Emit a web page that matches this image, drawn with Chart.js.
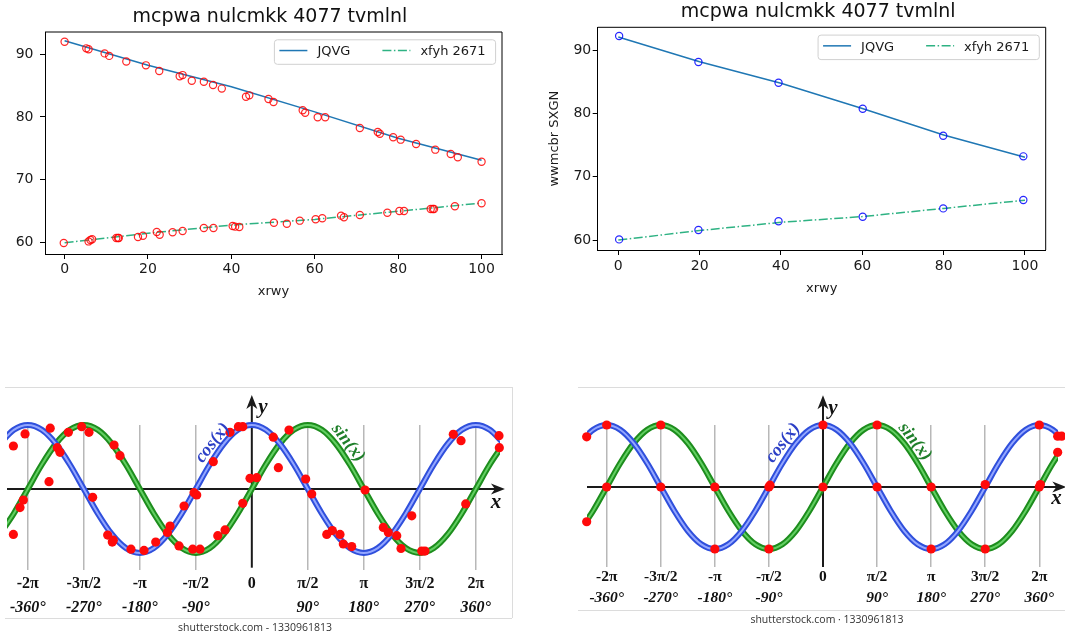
<!DOCTYPE html>
<html><head><meta charset="utf-8">
<script src="https://cdn.jsdelivr.net/npm/chart.js@4.4.1/dist/chart.umd.min.js"></script>
<style>
html,body{margin:0;padding:0;background:#fff;width:1065px;height:636px;overflow:hidden;position:relative}
canvas{position:absolute}
</style></head><body>
<canvas id="c1" width="530" height="300" style="left:0;top:0"></canvas>
<canvas id="c2" width="535" height="300" style="left:530px;top:0"></canvas>
<canvas id="c3" width="520" height="256" style="left:0;top:380px"></canvas>
<canvas id="c4" width="495" height="256" style="left:570px;top:380px"></canvas>
<script>
// ---------- data: top charts ----------
const titleText = 'mcpwa nulcmkk 4077 tvmlnl';
const xAxisLabel = 'xrwy';
const yAxisLabelRight = 'wwmcbr SXGN';
const seriesNames = ['JQVG', 'xfyh 2671'];
const lineX = [0, 20, 40, 60, 80, 100];
const jqvgY = [92.1, 88.2, 84.8, 80.8, 76.6, 73.1];
const xfyhY = [60.0, 61.5, 62.8, 63.7, 65.0, 66.3];
const topXTicks = [0, 20, 40, 60, 80, 100];
const topYTicks = [60, 70, 80, 90];

// red markers (left chart)
const redJX = [0, 5.2, 5.75, 9.6, 10.7, 14.8, 19.5, 22.7, 27.6, 28.3, 30.5, 33.4, 35.6, 37.7, 43.5, 44.3, 48.9, 50.1, 57.1, 57.7, 60.7, 62.5, 70.8, 75.1, 75.6, 78.8, 80.6, 84.3, 88.9, 92.6, 94.3, 100];
const redJY = [91.96, 90.9, 90.75, 90.1, 89.7, 88.8, 88.2, 87.3, 86.45, 86.65, 85.76, 85.6, 85.07, 84.5, 83.2, 83.43, 82.85, 82.37, 81.05, 80.67, 79.94, 79.94, 78.24, 77.6, 77.33, 76.76, 76.38, 75.7, 74.79, 74.1, 73.58, 72.88];
const redFX = [-0.2, 5.75, 6.2, 6.6, 12.4, 12.8, 13.0, 17.6, 18.8, 22.1, 22.8, 25.9, 28.3, 33.4, 35.7, 40.3, 40.9, 41.9, 50.2, 53.3, 56.4, 60.2, 61.8, 66.3, 67.0, 70.8, 77.4, 80.3, 81.4, 87.8, 88.3, 88.6, 93.6, 100];
const redFY = [59.95, 60.2, 60.43, 60.54, 60.75, 60.75, 60.75, 60.9, 61.1, 61.7, 61.27, 61.65, 61.86, 62.34, 62.34, 62.65, 62.55, 62.5, 63.18, 63.02, 63.5, 63.72, 63.88, 64.3, 64.04, 64.4, 64.77, 65.04, 65.04, 65.36, 65.36, 65.36, 65.8, 66.26];

// blue markers (right chart)
const blueX = [0.2, 19.7, 39.4, 60.1, 79.9, 99.6];
const blueJY = [92.26, 88.15, 84.87, 80.76, 76.49, 73.23];
const blueFY = [60.1, 61.58, 62.96, 63.69, 65.0, 66.33];

// ---------- data: wave charts (x in units of pi) ----------
const waveX = [-2.25,-2.125,-2,-1.875,-1.75,-1.625,-1.5,-1.375,-1.25,-1.125,-1,-0.875,-0.75,-0.625,-0.5,-0.375,-0.25,-0.125,0,0.125,0.25,0.375,0.5,0.625,0.75,0.875,1,1.125,1.25,1.375,1.5,1.625,1.75,1.875,2,2.125,2.25];
const sinY = [-0.707,-0.383,0,0.383,0.707,0.924,1,0.924,0.707,0.383,0,-0.383,-0.707,-0.924,-1,-0.924,-0.707,-0.383,0,0.383,0.707,0.924,1,0.924,0.707,0.383,0,-0.383,-0.707,-0.924,-1,-0.924,-0.707,-0.383,0,0.383,0.707];
const cosY = [0.707,0.924,1,0.924,0.707,0.383,0,-0.383,-0.707,-0.924,-1,-0.924,-0.707,-0.383,0,0.383,0.707,0.924,1,0.924,0.707,0.383,0,-0.383,-0.707,-0.924,-1,-0.924,-0.707,-0.383,0,0.383,0.707,0.924,1,0.924,0.707];
const piTicks = [-2, -1.5, -1, -0.5, 0, 0.5, 1, 1.5, 2];
const piLabels = ['-2π', '-3π/2', '-π', '-π/2', '0', 'π/2', 'π', '3π/2', '2π'];
const degLabels = ['-360°', '-270°', '-180°', '-90°', '', '90°', '180°', '270°', '360°'];
const curveNames = ['cos(x)', 'sin(x)'];

const dotsLX = [-2.129,-2.025,-1.80,-1.638,-1.519,-1.454,-1.737,-1.713,-1.230,-1.177,-1.811,-1.421,-2.040,-2.07,-2.129,-1.287,-1.237,-1.246,-1.079,-0.9625,-0.858,-0.754,-0.730,
  -0.65,-0.528,-0.4625,-0.304,-0.239,-0.081,-0.605,-0.516,-0.492,-0.344,-0.195,-0.12,-0.081,-0.016,0.044,0.192,0.332,0.237,0.481,0.535,0.669,0.719,0.7875,
  0.817,0.892,1.011,1.174,1.219,1.294,1.332,1.428,1.517,1.546,1.799,1.868,1.91,2.207,2.21];
const dotsLY = [0.672,0.86,0.95,0.886,0.974,0.886,0.646,0.573,0.6875,0.52,0.114,-0.13,-0.172,-0.29,-0.71,-0.72,-0.80,-0.83,-0.94,-0.96,-0.83,-0.68,-0.58,
  -0.89,-0.94,-0.94,-0.73,-0.64,-0.224,-0.266,-0.058,-0.094,0.427,0.886,0.974,0.974,0.167,0.177,0.81,0.92,0.333,0.156,-0.078,-0.71,-0.65,-0.71,
  -0.86,-0.90,-0.016,-0.60,-0.68,-0.73,-0.93,-0.42,-0.97,-0.97,0.854,0.755,-0.234,0.833,0.646];
const dotsRX = [-2.185,-2.185,-2,-2,-1.5,-1.5,-1,-1,-0.5,-0.5,-0.49,0,0,0.5,0.5,1,1,1.5,1.5,2,2,2.01,2.17,2.207,2.17];
const dotsRY = [0.81,-0.56,1,0,1,0,-1,0,-1,0,0.03,1,0,1,0,-1,0,-1,0.04,1,0,0.04,0.82,0.82,0.56];

const BLUE = '#1f77b4';
const GREEN = '#2eb283';
const pts = (xs, ys) => xs.map((x, i) => ({x: x, y: ys[i]}));

// ---------- plugins ----------
const mplDeco = {
  id: 'mplDeco',
  afterDatasetsDraw(chart) {
    const o = chart.options.plugins.mplDeco;
    if (!o) return;
    const c = chart.ctx, a = chart.chartArea;
    c.save();
    const items = chart.data.datasets.filter(d => d.inLegend);
    c.font = '13px "DejaVu Sans"';
    const padL = 5, padR = 10, handle = 28, gap = 10, colGap = 32, h = 24.5;
    let w = padL + padR;
    items.forEach((d, i) => { w += handle + gap + c.measureText(d.label).width + (i ? colGap : 0); });
    const right = a.right - 6.4, top = a.top + 7.8, left = right - w;
    c.beginPath();
    c.roundRect(left, top, w, h, 3);
    c.fillStyle = 'rgba(255,255,255,0.85)';
    c.fill();
    c.strokeStyle = '#d0d0d0'; c.lineWidth = 1; c.stroke();
    let x = left + padL; const cy = top + h / 2;
    items.forEach((d, i) => {
      if (i) x += colGap;
      c.beginPath(); c.setLineDash(d.borderDash || []);
      c.strokeStyle = d.borderColor; c.lineWidth = 1.5;
      c.moveTo(x, cy - 1.5); c.lineTo(x + handle, cy - 1.5); c.stroke();
      c.setLineDash([]);
      x += handle + gap;
      c.fillStyle = '#1a1a1a'; c.textAlign = 'left'; c.textBaseline = 'middle';
      c.fillText(d.label, x, cy);
      x += c.measureText(d.label).width;
    });
    c.restore();
  },
  afterDraw(chart) {
    const o = chart.options.plugins.mplDeco;
    if (!o) return;
    const c = chart.ctx, a = chart.chartArea;
    c.save();
    c.strokeStyle = '#000'; c.lineWidth = 1;
    c.beginPath();
    c.moveTo(a.left, a.top); c.lineTo(a.right, a.top); c.lineTo(a.right, a.bottom);
    c.stroke();
    c.font = '19px "DejaVu Sans"'; c.fillStyle = '#111';
    c.textAlign = 'center'; c.textBaseline = 'middle';
    c.fillText(o.title, (a.left + a.right) / 2 - 3.5, o.titleY);
    c.restore();
  }
};

const waveDeco = {
  id: 'waveDeco',
  beforeDatasetsDraw(chart) {
    const o = chart.options.plugins.waveDeco;
    if (!o) return;
    const c = chart.ctx, a = chart.chartArea, xs = chart.scales.x, ys = chart.scales.y;
    const x0 = xs.getPixelForValue(0), y0 = ys.getPixelForValue(0);
    const xTip = xs.getPixelForValue(o.xTip), yTip = ys.getPixelForValue(o.yTop), yBot = ys.getPixelForValue(o.yBottom);
    c.save();
    c.strokeStyle = '#1a1a1a'; c.fillStyle = '#1a1a1a'; c.lineWidth = 2;
    c.beginPath(); c.moveTo(a.left, y0); c.lineTo(xTip - 8, y0); c.stroke();
    c.beginPath(); c.moveTo(xTip, y0); c.lineTo(xTip - 14, y0 - 5.5); c.lineTo(xTip - 10, y0); c.lineTo(xTip - 14, y0 + 5.5); c.closePath(); c.fill();
    c.beginPath(); c.moveTo(x0, yBot); c.lineTo(x0, yTip + 8); c.stroke();
    c.beginPath(); c.moveTo(x0, yTip); c.lineTo(x0 - 5.5, yTip + 14); c.lineTo(x0, yTip + 10); c.lineTo(x0 + 5.5, yTip + 14); c.closePath(); c.fill();
    c.restore();
  },
  afterDraw(chart) {
    const o = chart.options.plugins.waveDeco;
    if (!o) return;
    const c = chart.ctx, a = chart.chartArea, xs = chart.scales.x, ys = chart.scales.y;
    c.save();
    c.fillStyle = '#111'; c.font = 'italic bold 21px "Liberation Serif"';
    c.textAlign = 'center'; c.textBaseline = 'middle';
    c.fillText('y', xs.getPixelForValue(o.yName[0]), ys.getPixelForValue(o.yName[1]));
    c.fillText('x', xs.getPixelForValue(o.xName[0]), ys.getPixelForValue(o.xName[1]));
    c.font = 'italic bold 18px "Liberation Serif"';
    c.save();
    c.translate(xs.getPixelForValue(o.cosAt[0]), ys.getPixelForValue(o.cosAt[1]));
    c.rotate(-52 * Math.PI / 180);
    c.fillStyle = '#2c3fc6'; c.fillText(curveNames[0], 0, 0);
    c.restore();
    c.save();
    c.translate(xs.getPixelForValue(o.sinAt[0]), ys.getPixelForValue(o.sinAt[1]));
    c.rotate(52 * Math.PI / 180);
    c.fillStyle = '#1f7f2a'; c.fillText(curveNames[1], 0, 0);
    c.restore();
    c.font = 'italic bold ' + o.fontSize + 'px "Liberation Serif"'; c.fillStyle = '#111';
    piTicks.forEach((v, i) => {
      if (degLabels[i]) c.fillText(degLabels[i], xs.getPixelForValue(v), a.bottom + o.degOffset);
    });
    c.font = '10.5px "Open Sans"'; c.fillStyle = '#333';
    c.fillText(o.mark, o.markX, o.markY);
    c.strokeStyle = '#dcdcdc'; c.lineWidth = 1;
    const f = o.frame;
    c.beginPath();
    c.moveTo(f.l, f.t + 0.5); c.lineTo(f.r, f.t + 0.5);
    c.moveTo(f.l, f.b + 0.5); c.lineTo(f.r, f.b + 0.5);
    if (f.rightLine) { c.moveTo(f.r + 0.5, f.t); c.lineTo(f.r + 0.5, f.b); }
    c.stroke();
    c.restore();
  }
};

// ---------- top charts ----------
function makeTop(cfg) {
  const datasets = [
    {label: seriesNames[0], data: pts(lineX, jqvgY), showLine: true, borderColor: BLUE, borderWidth: 1.5, pointRadius: 0, inLegend: true, order: 5},
    {label: seriesNames[1], data: pts(lineX, xfyhY), showLine: true, borderColor: GREEN, borderWidth: 1.5, borderDash: [9, 2.5, 1.5, 2.5], pointRadius: 0, inLegend: true, order: 4},
    {label: 'mj', data: pts(cfg.mx, cfg.mj), showLine: false, pointRadius: 3.6, pointBorderColor: cfg.mc, pointBackgroundColor: 'rgba(0,0,0,0)', pointBorderWidth: 1.2, order: 1},
    {label: 'mf', data: pts(cfg.mfx, cfg.mf), showLine: false, pointRadius: 3.6, pointBorderColor: cfg.mc, pointBackgroundColor: 'rgba(0,0,0,0)', pointBorderWidth: 1.2, order: 0}
  ];
  const tickFont = {family: 'DejaVu Sans', size: 14};
  return new Chart(document.getElementById(cfg.id), {
    type: 'scatter',
    data: {datasets},
    plugins: [mplDeco],
    options: {
      responsive: false, animation: false, events: [],
      layout: {padding: cfg.pad},
      plugins: {legend: {display: false}, tooltip: {enabled: false}, title: {display: false},
        mplDeco: {title: titleText, titleY: cfg.titleY}},
      scales: {
        x: {type: 'linear', min: cfg.xmin, max: cfg.xmax,
          afterBuildTicks: s => { s.ticks = topXTicks.map(v => ({value: v})); },
          afterFit: s => { s.height = cfg.xh; },
          grid: {display: true, drawOnChartArea: false, drawTicks: true, tickLength: 5, color: '#000', lineWidth: 1},
          border: {display: true, color: '#000', width: 1},
          ticks: {font: tickFont, color: '#1a1a1a', padding: cfg.xTickPad, maxRotation: 0, autoSkip: false},
          title: {display: true, text: xAxisLabel, font: {family: 'DejaVu Sans', size: 13}, color: '#1a1a1a', padding: {top: 0, bottom: cfg.xTitlePad}}
        },
        y: {type: 'linear', min: cfg.ymin, max: cfg.ymax,
          afterBuildTicks: s => { s.ticks = topYTicks.map(v => ({value: v})); },
          afterFit: s => { s.width = cfg.yw; },
          grid: {display: true, drawOnChartArea: false, drawTicks: true, tickLength: 5, color: '#000', lineWidth: 1},
          border: {display: true, color: '#000', width: 1},
          ticks: {font: tickFont, color: '#1a1a1a', padding: cfg.yTickPad, autoSkip: false},
          title: {display: !!cfg.yTitle, text: cfg.yTitle || '', font: {family: 'DejaVu Sans', size: 13}, color: '#1a1a1a', padding: {top: cfg.yTitlePad || 0, bottom: 0}}
        }
      }
    }
  });
}

makeTop({id: 'c1', pad: {left: 0, top: 32, right: 28, bottom: 0}, yw: 45, xh: 46,
  xmin: -4.7, xmax: 104.9, ymin: 58.2, ymax: 93.5, titleY: 16.7, xTickPad: 2, yTickPad: 6.5, xTitlePad: 0.5,
  mx: redJX, mj: redJY, mfx: redFX, mf: redFY, mc: 'rgba(255,0,0,0.85)'});
makeTop({id: 'c2', pad: {left: 0, top: 27.3, right: 19.3, bottom: 0}, yw: 67.7, xh: 50,
  xmin: -5.07, xmax: 105.1, ymin: 58.42, ymax: 93.64, titleY: 12.3, xTickPad: 3, yTickPad: 1.5, xTitlePad: 3.9,
  yTitle: yAxisLabelRight, yTitlePad: 17,
  mx: blueX, mj: blueJY, mfx: blueX, mf: blueFY, mc: 'rgba(0,0,255,0.85)'});

// ---------- wave charts ----------
function makeWave(cfg) {
  const line = (ys, color, width, order) => ({data: pts(waveX, ys), showLine: true, borderColor: color, borderWidth: width,
    pointRadius: 0, cubicInterpolationMode: 'monotone', order: order, clip: {left: 0, right: 0, top: 6, bottom: 0}});
  const datasets = [
    {data: pts(cfg.dx, cfg.dy), showLine: false, pointRadius: 4.6, pointBackgroundColor: '#ff0a0a', pointBorderWidth: 0, clip: false, order: 0},
    line(cosY, '#93a6ff', 2, 1),
    line(cosY, '#2f4fdc', 6, 2),
    line(sinY, '#62cf62', 2, 3),
    line(sinY, '#1d8d1d', 6, 4)
  ];
  return new Chart(document.getElementById(cfg.id), {
    type: 'scatter',
    data: {datasets},
    plugins: [waveDeco],
    options: {
      responsive: false, animation: false, events: [],
      layout: {padding: cfg.pad},
      plugins: {legend: {display: false}, tooltip: {enabled: false},
        waveDeco: cfg.deco},
      scales: {
        x: {type: 'linear', min: cfg.xmin, max: cfg.xmax,
          afterBuildTicks: s => { s.ticks = piTicks.map(v => ({value: v})); },
          afterFit: s => { s.height = cfg.xh; },
          grid: {display: true, drawOnChartArea: true, drawTicks: false, lineWidth: 1.5,
            color: ctx => (ctx.tick && ctx.tick.value === 0) ? 'rgba(0,0,0,0)' : '#b8b8b8'},
          border: {display: false},
          ticks: {font: {family: 'Liberation Serif', size: cfg.deco.fontSize, weight: 'bold'}, color: '#111', padding: cfg.tickPad,
            maxRotation: 0, autoSkip: false, callback: (v, i) => piLabels[i]}
        },
        y: {type: 'linear', display: false, min: cfg.ymin, max: cfg.ymax}
      }
    }
  });
}

makeWave({id: 'c3', pad: {left: 7, top: 45, right: 20, bottom: 0}, xh: 66,
  xmin: -2.186, xmax: 2.216, ymin: -1.266, ymax: 1, tickPad: 4.5, dx: dotsLX, dy: dotsLY,
  deco: {fontSize: 16, xTip: 2.26, yTop: 1.47, yBottom: -1.23, yName: [0.1, 1.27], xName: [2.18, -0.22],
    cosAt: [-0.35, 0.72], sinAt: [0.86, 0.72], degOffset: 38,
    mark: 'shutterstock.com - 1330961813', markX: 255, markY: 248,
    frame: {l: 5, r: 512, t: 7, b: 238, rightLine: true}}});
makeWave({id: 'c4', pad: {left: 17, top: 45, right: 7, bottom: 0}, xh: 69,
  xmin: -2.182, xmax: 2.173, ymin: -1.29, ymax: 1, tickPad: 0.5, dx: dotsRX, dy: dotsRY,
  deco: {fontSize: 15.5, xTip: 2.25, yTop: 1.48, yBottom: -1.29, yName: [0.0925, 1.27], xName: [2.16, -0.18],
    cosAt: [-0.37, 0.71], sinAt: [0.85, 0.73], degOffset: 31,
    mark: 'shutterstock.com · 1330961813', markX: 257, markY: 240,
    frame: {l: 8, r: 495, t: 7, b: 230, rightLine: false}}});
</script>
</body></html>
